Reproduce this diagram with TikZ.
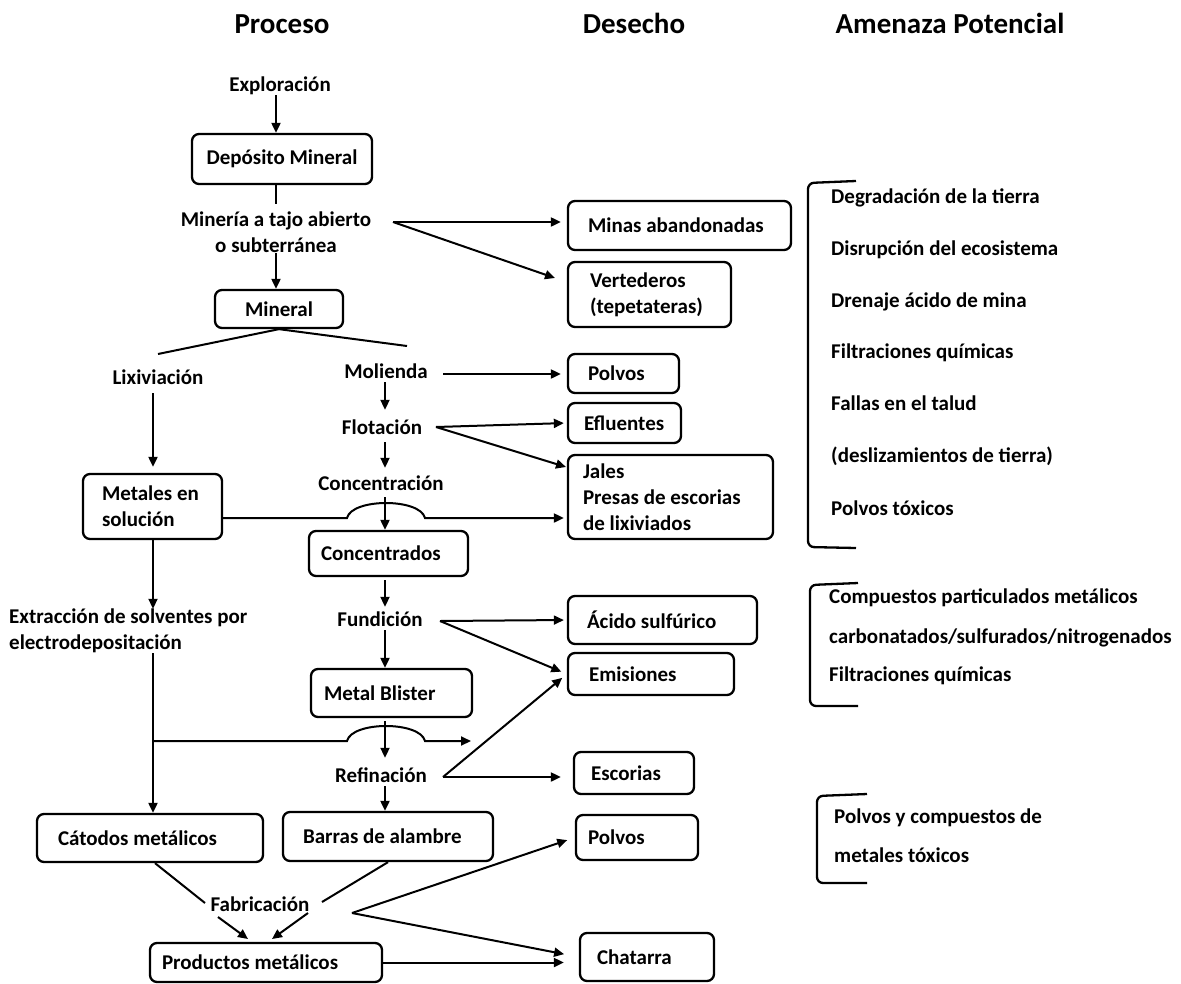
\documentclass[tikz,border=0pt]{standalone}
\usepackage{fontspec}
\setmainfont{Carlito}
\usetikzlibrary{arrows.meta,calc}
\begin{document}
\begin{tikzpicture}[x=1pt,y=-1pt,
  every node/.style={font=\fontsize{21}{26}\selectfont\bfseries, inner sep=0pt},
  lbl/.style={anchor=base, text height=15pt, text depth=4pt},
  hdr/.style={anchor=base, font=\fontsize{29}{34}\selectfont\bfseries},
  box/.style={draw, line width=2.3pt, rounded corners=7pt, align=flush left},
  cbox/.style={draw, line width=2.3pt, rounded corners=7pt, align=center},
  conn/.style={line width=2pt},
  arr/.style={line width=2pt, -{Triangle[length=10pt,width=9pt]}},
  risk/.style={anchor=base west},
  brk/.style={line width=2.3pt, rounded corners=6pt}
]
\useasboundingbox (0,0) rectangle (1181,983);

% headers
\node[hdr] (hproc) at (282,33) {Proceso};
\node[hdr] (hdes) at (634,33) {Desecho};
\node[hdr] (hame) at (950,33) {Amenaza Potencial};

% column coordinates
\coordinate (xL) at (153,0);
\coordinate (xT) at (276,0);
\coordinate (xR) at (385,0);

% process labels
\node[lbl] (expl) at (280,91) {Exploración};
\node[align=center] (mineria) at (276,232) {Minería a tajo abierto\\o subterránea};
\node[lbl] (lix) at (158,384) {Lixiviación};
\node[lbl] (mol) at (386,378) {Molienda};
\node[lbl] (flot) at (382,434) {Flotación};
\node[lbl] (conc) at (381,490) {Concentración};
\node[align=flush left, anchor=west] (extr) at (9,631) {Extracción de solventes por\\electrodepositación};
\node[lbl] (fund) at (380,626) {Fundición};
\node[lbl] (refi) at (381,782) {Refinación};
\node[lbl] (fab) at (260,911) {Fabricación};

% process boxes
\node[cbox, minimum width=180pt, minimum height=50pt] (dep) at (282,159) {Depósito Mineral};
\node[cbox, minimum width=128pt, minimum height=38pt] (mineral) at (279,309) {Mineral};
\node[box, minimum width=139pt, minimum height=65pt, text width=101pt] (met) at (152.5,506.5) {Metales en\\solución};
\node[box, minimum width=159pt, minimum height=45pt, text width=135pt] (ccd) at (388.5,553.5) {Concentrados};
\node[box, minimum width=161pt, minimum height=48pt, text width=135pt] (bli) at (391.5,693) {Metal Blister};
\node[box, minimum width=226pt, minimum height=48pt, text width=184pt] (cat) at (150,838) {Cátodos metálicos};
\node[box, minimum width=210pt, minimum height=49pt, text width=170pt] (bar) at (388,836.5) {Barras de alambre};
\node[box, minimum width=232pt, minimum height=39pt, text width=208pt] (pro) at (266,962.5) {Productos metálicos};

% waste boxes
\node[box, minimum width=223pt, minimum height=49pt, text width=183pt] (minas) at (679.5,225.5) {Minas abandonadas};
\node[box, minimum width=163pt, minimum height=65pt, text width=119pt] (vert) at (649.5,294.5) {Vertederos\\(tepetateras)};
\node[box, minimum width=111pt, minimum height=39pt, text width=71pt] (pol1) at (623.5,373.5) {Polvos};
\node[box, minimum width=113pt, minimum height=40pt, text width=81pt] (efl) at (624.5,423) {Efluentes};
\node[box, minimum width=205pt, minimum height=84pt, text width=175pt] (jal) at (670.5,497) {Jales\\Presas de escorias\\de lixiviados};
\node[box, minimum width=189pt, minimum height=48pt, text width=151pt] (aci) at (662.5,620) {Ácido sulfúrico};
\node[box, minimum width=166pt, minimum height=42pt, text width=124pt] (emi) at (651,674) {Emisiones};
\node[box, minimum width=120pt, minimum height=42pt, text width=86pt] (esc) at (634,773) {Escorias};
\node[box, minimum width=122pt, minimum height=45pt, text width=98pt] (pol2) at (637,837.5) {Polvos};
\node[box, minimum width=134pt, minimum height=48pt, text width=100pt] (cha) at (647,957) {Chatarra};

% risk texts
\node[risk] (r1) at (831,203) {Degradación de la tierra};
\node[risk] (r2) at (831,255) {Disrupción del ecosistema};
\node[risk] (r3) at (831,307) {Drenaje ácido de mina};
\node[risk] (r4) at (831,358) {Filtraciones químicas};
\node[risk] (r5) at (831,410) {Fallas en el talud};
\node[risk] (r6) at (831,462) {(deslizamientos de tierra)};
\node[risk] (r7) at (831,515) {Polvos tóxicos};
\node[risk] (s1) at (829,603) {Compuestos particulados metálicos};
\node[risk] (s2) at (829,643) {carbonatados/sulfurados/nitrogenados};
\node[risk] (s3) at (829,681) {Filtraciones químicas};
\node[risk] (t1) at (834,823) {Polvos y compuestos de};
\node[risk] (t2) at (834,862) {metales tóxicos};

% brackets
\draw[brk] (856,181) -- (808,183) -- (808,547) -- (856,548);
\draw[brk] (858,583) -- (810,585) -- (810,706) -- (858,706);
\draw[brk] (867,794) -- (817,796) -- (817,883) -- (867,883);

% free-end coordinates
\coordinate (sL) at (158,354);
\coordinate (sR) at (407,346);
\coordinate (mr) at (393,222);
\coordinate (vtip) at (555,278);
\coordinate (ml) at (443,374);
\coordinate (fl) at (436,427);
\coordinate (jtip) at (566,467);
\coordinate (h1a) at (347,518);
\coordinate (h1b) at (425,518);
\coordinate (fu) at (440,621);
\coordinate (rf) at (443,777);
\coordinate (h2a) at (347,741);
\coordinate (h2b) at (425,741);
\coordinate (h2e) at (471,741);
\coordinate (fb) at (352,913);
\coordinate (f1) at (205,903);
\coordinate (f2) at (322,902);
\coordinate (a1s) at (218,917);
\coordinate (a1e) at (248,939);
\coordinate (a2s) at (308,913);
\coordinate (a2e) at (272,939);

% main vertical flow
\draw[arr] (expl.south -| xT) -- (dep.north -| xT);
\draw[conn, shorten >=7pt] (dep.south -| xT) -- (mineria.north -| xT);
\draw[arr] (mineria.south -| xT) -- (mineral.north -| xT);
\draw[conn] (mineral.south) -- (sL);
\draw[conn] (mineral.south) -- (sR);
\draw[arr, shorten <=5pt, shorten >=6pt] (lix.south -| xL) -- (met.north -| xL);
\draw[arr] (met.south -| xL) -- (extr.north -| xL);
\draw[arr] (extr.south -| xL) -- (cat.north -| xL);
\draw[arr, shorten >=9pt] (mol.south -| xR) -- (flot.north -| xR);
\draw[arr, shorten <=4pt, shorten >=7pt] (flot.south -| xR) -- (conc.north -| xR);
\draw[arr, shorten <=3pt] (conc.south -| xR) -- (ccd.north -| xR);
\draw[arr, shorten <=3pt, shorten >=4pt] (ccd.south -| xR) -- (fund.north -| xR);
\draw[arr] (fund.south -| xR) -- (bli.north -| xR);
\draw[arr, shorten <=3pt, shorten >=9pt] (bli.south -| xR) -- (refi.north -| xR);
\draw[arr] (refi.south -| xR) -- (bar.north -| xR);

% crossings with hops
\draw[arr, shorten >=3pt] (met.east |- h1a) -- (h1a) .. controls ($(h1a)+(5,-20)$) and ($(h1b)+(-5,-20)$) .. (h1b) -- (jal.west |- h1a);
\draw[arr] (xL |- h2a) -- (h2a) .. controls ($(h2a)+(5,-20)$) and ($(h2b)+(-5,-20)$) .. (h2b) -- (h2e);

% waste arrows
\draw[arr, shorten >=6pt] (mr) -- (minas.west |- mr);
\draw[arr] (mr) -- (vtip);
\draw[arr, shorten >=6pt] (ml) -- (pol1.west |- ml);
\draw[arr, shorten >=3pt] (fl) -- (efl.west);
\draw[arr] (fl) -- (jtip);
\draw[arr, shorten >=3pt] (fu) -- (aci.west);
\draw[arr, shorten >=6pt] (fu) -- (emi.west);
\draw[arr, shorten >=6pt] (rf) -- (emi.west);
\draw[arr, shorten >=12pt] (rf) -- (esc.west |- rf);
\draw[arr, shorten >=8pt] (fb) -- (pol2.west);
\draw[arr, shorten >=15pt] (fb) -- (cha.west);
\draw[arr, shorten >=15pt] (pro.east) -- (cha.west |- pro.east);

% fabrication
\draw[conn] ([xshift=5pt]cat.south) -- (f1);
\draw[conn] (bar.south) -- (f2);
\draw[arr] (a1s) -- (a1e);
\draw[arr] (a2s) -- (a2e);
\end{tikzpicture}
\end{document}
